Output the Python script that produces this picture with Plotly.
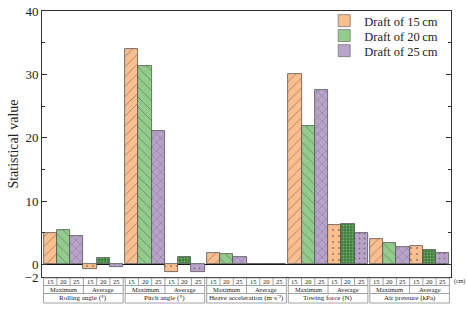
import plotly.graph_objects as go

groups = ["Rolling angle (°)", "Pitch angle (°)", "Heave acceleration (m·s⁻²)",
          "Towing force (N)", "Air pressure (kPa)"]
drafts = ["15", "20", "25"]
stats = ["Maximum", "Average"]

max_15 = [4.9, 34.0, 1.75, 30.0, 3.95]
max_20 = [5.5, 31.3, 1.6, 21.8, 3.4]
max_25 = [4.5, 21.0, 1.2, 27.6, 2.8]
avg_15 = [-0.8, -1.2, 0.0, 6.2, 2.95]
avg_20 = [1.05, 1.15, 0.0, 6.3, 2.25]
avg_25 = [-0.4, -1.2, 0.0, 5.0, 1.75]

y_ticks = [-2, 0, 10, 20, 30, 40]
y_minor = [5, 15, 25, 35]

ORANGE = "#FBBE8E"
GREEN = "#92CC8C"
PURPLE = "#B8A3CA"
DKGREEN = "#3F7D3C"
EDGE = "#555555"
HATCH = "#3a3a3a"
FONT = "Liberation Serif"

GAP = 0.15
GW = 6


def pos(j):
    return [i * (GW + GAP) + j + 0.5 for i in range(len(groups))]


series = [
    (max_15, 0, ORANGE, dict(shape="/", fgcolor=HATCH, size=7, solidity=0.12)),
    (max_20, 1, GREEN, dict(shape="\\", fgcolor=HATCH, size=7, solidity=0.12)),
    (max_25, 2, PURPLE, dict(shape="x", fgcolor=HATCH, size=6, solidity=0.14)),
    (avg_15, 3, ORANGE, dict(shape=".", fgcolor=HATCH, size=6, solidity=0.1)),
    (avg_20, 4, DKGREEN, dict(shape=".", fgcolor="#A9DCA2", size=3, solidity=0.35)),
    (avg_25, 5, PURPLE, dict(shape=".", fgcolor=HATCH, size=5, solidity=0.12)),
]

fig = go.Figure()
for vals, j, col, pat in series:
    fig.add_trace(go.Bar(
        x=pos(j), y=vals, width=1.0,
        marker=dict(color=col, line=dict(color=EDGE, width=0.8), pattern=pat),
        showlegend=False, hoverinfo="y"))


def py(pix):
    return (277 - pix) / 266


legend_names = ["legend", "legend2", "legend3"]
legend_rows = [21, 36, 51]
legend_layout = {}
for d, col, lg, row in zip(drafts, [ORANGE, GREEN, PURPLE], legend_names, legend_rows):
    fig.add_trace(go.Bar(x=[None], y=[None], name=f"Draft of {d}\u2009cm", legend=lg,
                         marker=dict(color=col, line=dict(color="#777", width=0.8))))
    legend_layout[lg] = dict(x=0.69, y=py(row), xanchor="left", yanchor="middle",
                             bgcolor="rgba(0,0,0,0)", font=dict(size=12.5, family=FONT),
                             itemwidth=30)

# Category table under the axis
r0, r1, r2, r3 = py(278), py(285.5), py(293.5), py(303)
LC = "#8a8a8a"
shapes = []
annots = []
for i, g in enumerate(groups):
    x0 = i * (GW + GAP)
    x1 = x0 + GW
    shapes.append(dict(type="rect", xref="x", yref="paper", x0=x0, x1=x1, y0=r3, y1=r0,
                       line=dict(color=LC, width=0.8)))
    for yy in (r1, r2):
        shapes.append(dict(type="line", xref="x", yref="paper", x0=x0, x1=x1, y0=yy, y1=yy,
                           line=dict(color=LC, width=0.8)))
    for k in range(1, GW):
        shapes.append(dict(type="line", xref="x", yref="paper", x0=x0 + k, x1=x0 + k,
                           y0=r1 if k != 3 else r2, y1=r0, line=dict(color=LC, width=0.8)))
    for k in range(GW):
        annots.append(dict(x=x0 + k + 0.5, y=(r0 + r1) / 2, xref="x", yref="paper",
                           text=drafts[k % 3], showarrow=False, yanchor="middle",
                           font=dict(size=6.5, family=FONT, color="#222")))
    for s_i, s in enumerate(stats):
        annots.append(dict(x=x0 + 1.5 + 3 * s_i, y=(r1 + r2) / 2, xref="x", yref="paper",
                           text=s, showarrow=False, yanchor="middle",
                           font=dict(size=6.5, family=FONT, color="#222")))
    annots.append(dict(x=x0 + 3, y=(r2 + r3) / 2, xref="x", yref="paper",
                       text=g, showarrow=False, yanchor="middle",
                       font=dict(size=7, family=FONT, color="#222")))

annots.append(dict(x=1.003, y=(r0 + r1) / 2, xref="paper", yref="paper", text="(cm)",
                   showarrow=False, xanchor="left", yanchor="middle",
                   font=dict(size=6, family=FONT, color="#222")))
annots.append(dict(x=-0.072, y=0.5, xref="paper", yref="paper", text="Statistical value",
                   textangle=-90, showarrow=False, xanchor="center", yanchor="middle",
                   font=dict(size=14, family=FONT, color="#222")))

xmax = len(groups) * GW + (len(groups) - 1) * GAP

fig.update_layout(
    width=467, height=312,
    margin=dict(l=42, r=16, t=11, b=35, autoexpand=False),
    paper_bgcolor="white", plot_bgcolor="white",
    barmode="overlay", bargap=0,
    font=dict(family=FONT, color="#222"),
    shapes=shapes, annotations=annots,
    xaxis=dict(range=[-0.12, xmax + 0.12], showticklabels=False, ticks="",
               showgrid=False, zeroline=False, showline=True, mirror=True,
               linecolor="#333", linewidth=1, automargin=False),
    yaxis=dict(range=[-2, 40], tickvals=y_ticks, ticks="inside", ticklen=5,
               tickcolor="#333", showgrid=False, zeroline=True, zerolinecolor="#111",
               zerolinewidth=1, showline=True, mirror="ticks", linecolor="#333",
               linewidth=1, tickfont=dict(size=13, family=FONT), automargin=False,
               minor=dict(tickvals=y_minor, ticks="inside", ticklen=3, tickcolor="#333")),
    **legend_layout,
)

fig.write_html("out.html", config={"displayModeBar": False},
               post_script="document.body.style.margin='0';document.body.style.padding='0';")
